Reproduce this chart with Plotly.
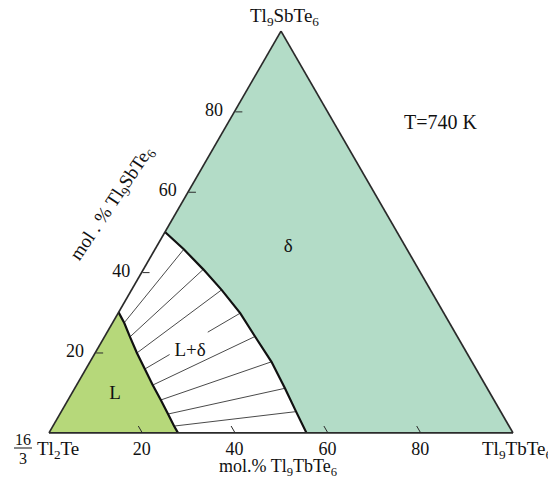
import plotly.graph_objects as go

# Isothermal section 16/3 Tl2Te – Tl9SbTe6 – Tl9TbTe6 at 740 K
# Compositions in mol.%: sb = Tl9SbTe6 (top corner), tb = Tl9TbTe6 (right corner)

# Liquid (L) field: along the Tl2Te–Tl9SbTe6 side up to 30 %, then its boundary down to the base
l_sb = [0, 30, 27.4, 23.9, 19.9, 15.9, 11.9, 8.2, 4.7, 1.7, 0]
l_tb = [0, 0, 2.5, 5.5, 9.0, 12.7, 16.4, 20.0, 23.3, 26.1, 27.8]

# delta solid-solution boundary (from the left side to the base)
d_sb = [50, 45.7, 40.7, 35.6, 29.8, 24.0, 17.7, 11.1, 5.3, 0]
d_tb = [0, 6.2, 12.9, 19.4, 26.3, 32.4, 39.1, 45.3, 50.6, 55.5]

# tie lines in L+delta: liquid end -> delta end
tie_l_sb = [27.4, 23.9, 19.9, 15.9, 11.9, 8.2, 4.7, 1.7]
tie_l_tb = [2.5, 5.5, 9.0, 12.7, 16.4, 20.0, 23.3, 26.1]
tie_d_sb = d_sb[1:9]
tie_d_tb = d_tb[1:9]

# field labels
lab_text = ["δ", "L+δ", "L"]
lab_sb = [46.3, 20.2, 9.5]
lab_tb = [28.4, 20.3, 9.5]

tick_vals = [20, 40, 60, 80]

W, H = 548, 479
FONT = "Liberation Serif"
L_FILL = "#b6d87a"
D_FILL = "#b3dcc7"
EDGE = "#2a2a2a"


def third(sb, tb):
    return [100 - s - t for s, t in zip(sb, tb)]


def px(x, y):
    return x / W, 1 - y / H


fig = go.Figure()

# delta field: boundary, then base to the Tl9TbTe6 corner, then up to Tl9SbTe6
ds = d_sb + [0, 100]
dt = d_tb + [100, 0]
fig.add_trace(go.Scatterternary(
    a=ds, c=dt, b=third(ds, dt), mode="lines", fill="toself",
    fillcolor=D_FILL, line=dict(color="rgba(0,0,0,0)", width=0),
    hoverinfo="skip", showlegend=False))

# L field
fig.add_trace(go.Scatterternary(
    a=l_sb, c=l_tb, b=third(l_sb, l_tb), mode="lines", fill="toself",
    fillcolor=L_FILL, line=dict(color="rgba(0,0,0,0)", width=0),
    hoverinfo="skip", showlegend=False))

# tie lines (the fourth one is interrupted by the L+delta label)
ta, tc = [], []
for i, (s0, t0, s1, t1) in enumerate(zip(tie_l_sb, tie_l_tb, tie_d_sb, tie_d_tb)):
    if i == 3:
        for f0, f1 in [(0.0, 0.26), (0.66, 1.0)]:
            ta += [s0 + f0 * (s1 - s0), s0 + f1 * (s1 - s0), None]
            tc += [t0 + f0 * (t1 - t0), t0 + f1 * (t1 - t0), None]
    else:
        ta += [s0, s1, None]
        tc += [t0, t1, None]
tb_ = [None if s is None else 100 - s - t for s, t in zip(ta, tc)]
fig.add_trace(go.Scatterternary(
    a=ta, c=tc, b=tb_, mode="lines", line=dict(color="#4a4a4a", width=1),
    connectgaps=False, hoverinfo="skip", showlegend=False))

# phase boundaries
fig.add_trace(go.Scatterternary(
    a=d_sb, c=d_tb, b=third(d_sb, d_tb), mode="lines",
    line=dict(color="#111111", width=2.2), hoverinfo="skip", showlegend=False))
fig.add_trace(go.Scatterternary(
    a=l_sb[1:], c=l_tb[1:], b=third(l_sb[1:], l_tb[1:]), mode="lines",
    line=dict(color="#111111", width=2.2), hoverinfo="skip", showlegend=False))

# field names
fig.add_trace(go.Scatterternary(
    a=lab_sb, c=lab_tb, b=third(lab_sb, lab_tb), mode="text", text=lab_text,
    textfont=dict(family=FONT, size=19, color="#111111"),
    hoverinfo="skip", showlegend=False))

axis_common = dict(
    min=0, linecolor=EDGE, linewidth=1.7, showgrid=False,
    ticks="inside", ticklen=7, tickwidth=1, tickcolor=EDGE,
    tickfont=dict(family=FONT, size=18, color="#111111"),
    title=dict(text=""))

fig.update_layout(
    width=W, height=H,
    margin=dict(l=0, r=0, t=0, b=0),
    paper_bgcolor="white",
    font=dict(family=FONT, color="#111111"),
    ternary=dict(
        sum=100,
        bgcolor="white",
        domain=dict(x=[49 / W, 513 / W], y=[46 / H, 448 / H]),
        # en space keeps the side labels clear of the edge
        aaxis=dict(**axis_common, tickmode="array", tickvals=tick_vals,
                   ticktext=[str(v) + "\u2002" for v in tick_vals]),
        # along the base b = 100 - (Tl9TbTe6 %), so label the ticks with Tl9TbTe6 %
        baxis=dict(**axis_common, tickmode="array",
                   tickvals=[100 - v for v in tick_vals],
                   ticktext=[str(v) for v in tick_vals]),
        caxis=dict(**{**axis_common, "ticks": ""}, showticklabels=False),
    ),
)

ann = []


def text(x, y, s, size, xanchor="center", **kw):
    xx, yy = px(x, y)
    ann.append(dict(x=xx, y=yy, xref="paper", yref="paper", text=s,
                    xanchor=xanchor, yanchor="middle",
                    showarrow=False, font=dict(family=FONT, size=size, color="#111111"),
                    **kw))


text(284, 17, "Tl<sub>9</sub>SbTe<sub>6</sub>", 19)
text(480, 450, "Tl<sub>9</sub>TbTe<sub>6</sub>", 19, xanchor="left")
text(35, 450, "Tl<sub>2</sub>Te", 19, xanchor="left")
text(23, 439, "16", 16)
text(23, 458, "3", 16)
text(440, 122, "T=740 K", 20)
text(278, 467, "mol.% Tl<sub>9</sub>TbTe<sub>6</sub>", 18)
text(112, 204, "mol . % Tl<sub>9</sub>SbTe<sub>6</sub>", 19, textangle=-56)
fig.update_layout(annotations=ann)

# fraction bar of 16/3
x0, y0 = px(14, 448)
x1, _ = px(32, 448)
fig.add_shape(type="line", xref="paper", yref="paper", x0=x0, x1=x1, y0=y0, y1=y0,
              line=dict(color="#111111", width=1))

fig.write_html("out.html")
